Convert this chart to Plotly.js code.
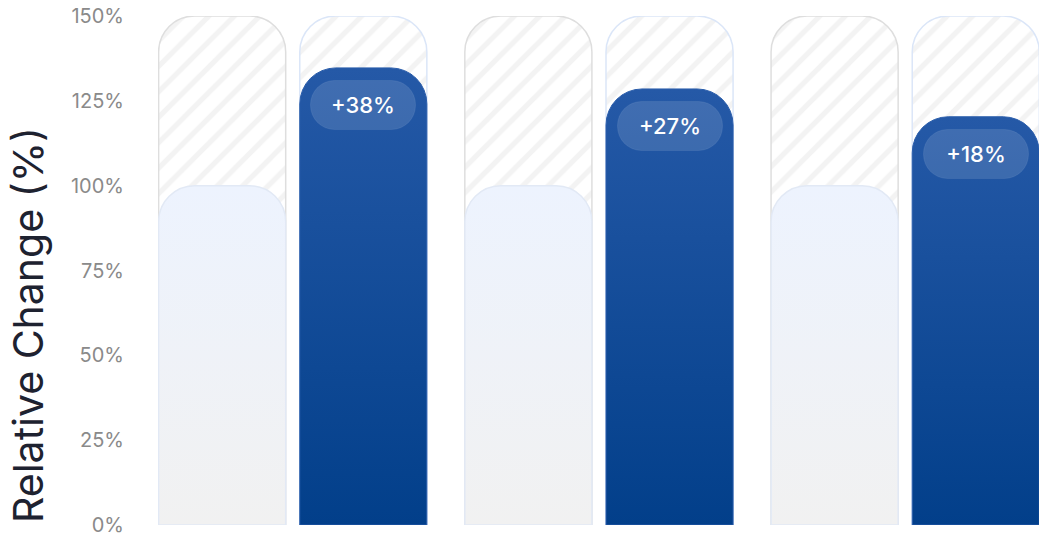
<!DOCTYPE html>
<html>
<head>
<meta charset="utf-8">
<script src="https://cdn.plot.ly/plotly-3.0.1.min.js"></script>
<style>
  html, body { margin: 0; padding: 0; background: #ffffff; }
  #chart { width: 1040px; height: 543px; }
</style>
</head>
<body>
<div id="chart"></div>
<script>
// groups (no x labels shown in the chart)
var groups = ['Group 1', 'Group 2', 'Group 3'];
// background track height
var trackValues = [150, 150, 150];
// baseline bars
var baseValues = [100, 100, 100];
// bars after change, as drawn
var changedValues = [134.7, 128.5, 120.3];
// pill labels
var changeLabels = ['+38%', '+27%', '+18%'];
var yTicks = [0, 25, 50, 75, 100, 125, 150];
var yTickText = ['0%', '25%', '50%', '75%', '100%', '125%', '150%'];
var yTitle = 'Relative Change (%)';

var BAR_W = 0.415;
var LEFT_OFF = -0.438;
var RIGHT_OFF = 0.023;

var stripe = {
    shape: '/',
    fgcolor: '#f3f3f3',
    bgcolor: '#ffffff',
    size: 18,
    solidity: 0.28,
    fillmode: 'replace'
};

var traces = [
    {
        type: 'bar', x: groups, y: trackValues,
        offset: LEFT_OFF, width: BAR_W,
        marker: {
            color: '#ffffff', cornerradius: 36,
            pattern: stripe,
            line: { color: '#dedede', width: 1.5 }
        },
        hoverinfo: 'skip'
    },
    {
        type: 'bar', x: groups, y: trackValues,
        offset: RIGHT_OFF, width: BAR_W,
        marker: {
            color: '#ffffff', cornerradius: 36,
            pattern: stripe,
            line: { color: '#dbe6f8', width: 1.5 }
        },
        hoverinfo: 'skip'
    },
    {
        type: 'bar', x: groups, y: baseValues,
        xaxis: 'x2',
        offset: LEFT_OFF, width: BAR_W,
        marker: {
            color: '#eff3fb', cornerradius: 36,
            line: { color: '#e2e9f5', width: 1.5 }
        }
    },
    {
        type: 'bar', x: groups, y: changedValues,
        xaxis: 'x2',
        offset: RIGHT_OFF, width: BAR_W,
        marker: {
            color: '#174c9b', cornerradius: 36,
            line: { color: '#2a5dab', width: 1 }
        }
    }
];

var annotations = groups.map(function (g, i) {
    return {
        x: i + RIGHT_OFF + BAR_W / 2,
        y: changedValues[i],
        xref: 'x2', yref: 'y',
        yanchor: 'top', xanchor: 'center',
        yshift: -12,
        text: changeLabels[i],
        showarrow: false,
        width: 104, height: 48,
        borderpad: 0,
        bgcolor: 'rgba(255,255,255,0.13)',
        bordercolor: 'rgba(255,255,255,0.07)',
        borderwidth: 1,
        font: { family: 'Inter, Roboto, sans-serif', size: 22, color: '#ffffff', weight: 500 }
    };
});

// y title sits low in the reference, so it is placed as a rotated annotation
annotations.push({
    xref: 'paper', yref: 'paper',
    x: 0, y: 0,
    xanchor: 'center', yanchor: 'bottom',
    xshift: -130,
    textangle: -90,
    text: yTitle,
    showarrow: false,
    font: { family: 'Inter, Roboto, sans-serif', size: 41, color: '#1e2230' }
});

var hiddenX = {
    type: 'category',
    range: [-0.44, 2.437],
    showgrid: false,
    zeroline: false,
    showline: false,
    ticks: '',
    showticklabels: false,
    fixedrange: true
};

var layout = {
    width: 1040,
    height: 543,
    barmode: 'overlay',
    showlegend: false,
    margin: { l: 158, r: 1, t: 16, b: 18, pad: 0 },
    paper_bgcolor: '#ffffff',
    plot_bgcolor: 'rgba(0,0,0,0)',
    font: { family: 'Inter, Roboto, sans-serif' },
    xaxis: hiddenX,
    xaxis2: Object.assign({}, hiddenX, { overlaying: 'x', matches: 'x' }),
    yaxis: {
        range: [0, 150],
        tickvals: yTicks,
        ticktext: yTickText,
        showgrid: false,
        zeroline: false,
        showline: false,
        ticks: '',
        ticklabelstandoff: 33,
        tickfont: { size: 20, color: '#8a8a8a' },
        fixedrange: true
    },
    annotations: annotations
};

function addGradient(svg, id, top, bottom) {
    var ns = 'http://www.w3.org/2000/svg';
    var defs = svg.querySelector('defs');
    if (!defs) {
        defs = document.createElementNS(ns, 'defs');
        svg.insertBefore(defs, svg.firstChild);
    }
    var grad = document.createElementNS(ns, 'linearGradient');
    grad.setAttribute('id', id);
    grad.setAttribute('x1', '0'); grad.setAttribute('y1', '0');
    grad.setAttribute('x2', '0'); grad.setAttribute('y2', '1');
    [[0, top], [1, bottom]].forEach(function (s) {
        var stop = document.createElementNS(ns, 'stop');
        stop.setAttribute('offset', s[0]);
        stop.setAttribute('stop-color', s[1]);
        grad.appendChild(stop);
    });
    defs.appendChild(grad);
}

var el = document.getElementById('chart');
Plotly.newPlot(el, traces, layout, { displayModeBar: false, staticPlot: true }).then(function () {
    var svg = el.querySelector('svg.main-svg');
    addGradient(svg, 'gradBase', '#edf3fe', '#f1f1f1');
    addGradient(svg, 'gradBlue', '#2559a7', '#023f8a');

    // traces 2 and 3 live on the x2y subplot
    var barTraces = el.querySelectorAll('.barlayer .trace');
    if (barTraces[2]) {
        barTraces[2].querySelectorAll('path').forEach(function (p) { p.style.fill = 'url(#gradBase)'; });
    }
    if (barTraces[3]) {
        barTraces[3].querySelectorAll('path').forEach(function (p) { p.style.fill = 'url(#gradBlue)'; });
    }
    // round the label backgrounds into pills (skip the title annotation)
    el.querySelectorAll('.annotation rect.bg').forEach(function (r, i) {
        if (i < changeLabels.length) {
            r.setAttribute('rx', 24);
            r.setAttribute('ry', 24);
        }
    });
});
</script>
</body>
</html>
